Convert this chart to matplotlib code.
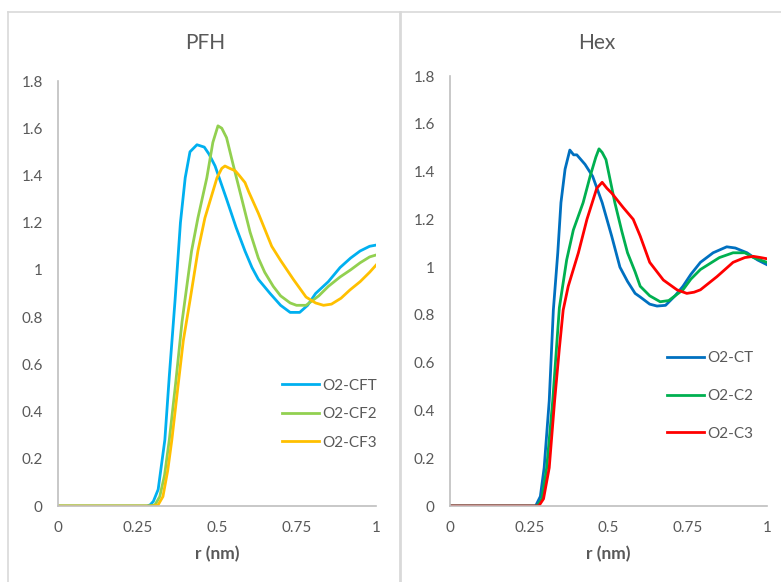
import matplotlib.pyplot as plt
from matplotlib.lines import Line2D

plt.rcParams['font.family'] = ['Lato', 'DejaVu Sans']

# PFH panel
pfh_cft_r = [0, 0.28, 0.29, 0.30, 0.315, 0.336, 0.35, 0.368, 0.385, 0.40, 0.415, 0.437, 0.46, 0.475, 0.494,
             0.53, 0.56, 0.588, 0.61, 0.63, 0.667, 0.70, 0.73, 0.76, 0.785, 0.81, 0.85, 0.887, 0.92, 0.95, 0.98, 1.0]
pfh_cft_g = [0, 0, 0.005, 0.02, 0.07, 0.28, 0.55, 0.87, 1.2, 1.39, 1.50, 1.53, 1.52, 1.49, 1.44,
             1.30, 1.18, 1.08, 1.01, 0.96, 0.90, 0.85, 0.82, 0.82, 0.85, 0.90, 0.95, 1.01, 1.05, 1.08, 1.10, 1.105]

pfh_cf2_r = [0, 0.29, 0.305, 0.32, 0.335, 0.35, 0.37, 0.39, 0.405, 0.42, 0.44, 0.468, 0.487, 0.503, 0.515,
             0.53, 0.55, 0.578, 0.604, 0.63, 0.65, 0.677, 0.70, 0.73, 0.75, 0.78, 0.82, 0.85, 0.887, 0.92,
             0.95, 0.98, 1.0]
pfh_cf2_g = [0, 0, 0.005, 0.04, 0.13, 0.28, 0.52, 0.78, 0.93, 1.08, 1.22, 1.39, 1.54, 1.61, 1.60,
             1.56, 1.45, 1.30, 1.16, 1.05, 0.99, 0.93, 0.89, 0.86, 0.85, 0.85, 0.89, 0.93, 0.97, 1.00,
             1.03, 1.055, 1.063]

pfh_cf3_r = [0, 0.30, 0.315, 0.33, 0.345, 0.358, 0.375, 0.394, 0.415, 0.44, 0.462, 0.50, 0.515, 0.525,
             0.54, 0.557, 0.57, 0.588, 0.60, 0.63, 0.672, 0.70, 0.74, 0.78, 0.81, 0.835, 0.86, 0.89, 0.918,
             0.95, 0.98, 1.0]
pfh_cf3_g = [0, 0, 0.005, 0.04, 0.15, 0.28, 0.48, 0.70, 0.87, 1.08, 1.22, 1.39, 1.43, 1.44,
             1.43, 1.42, 1.40, 1.37, 1.33, 1.24, 1.10, 1.04, 0.96, 0.885, 0.86, 0.85, 0.855, 0.88, 0.915,
             0.95, 0.99, 1.02]

# Hex panel
hex_ct_r = [0, 0.27, 0.285, 0.297, 0.313, 0.326, 0.34, 0.35, 0.363, 0.378, 0.39, 0.40, 0.426, 0.45, 0.48,
            0.51, 0.536, 0.56, 0.584, 0.60, 0.63, 0.653, 0.68, 0.71, 0.735, 0.76, 0.79, 0.83, 0.873, 0.90,
            0.937, 0.97, 1.0]
hex_ct_g = [0, 0, 0.04, 0.16, 0.44, 0.82, 1.06, 1.27, 1.41, 1.49, 1.47, 1.47, 1.43, 1.38, 1.27,
            1.13, 1.00, 0.94, 0.89, 0.875, 0.845, 0.837, 0.84, 0.88, 0.92, 0.97, 1.02, 1.06, 1.085, 1.08,
            1.06, 1.03, 1.01]

hex_c2_r = [0, 0.275, 0.29, 0.305, 0.324, 0.345, 0.368, 0.389, 0.42, 0.442, 0.46, 0.47, 0.48, 0.492,
            0.52, 0.542, 0.56, 0.584, 0.60, 0.63, 0.663, 0.69, 0.735, 0.76, 0.79, 0.85, 0.893, 0.93,
            0.957, 1.0]
hex_c2_g = [0, 0, 0.03, 0.16, 0.44, 0.83, 1.03, 1.155, 1.27, 1.38, 1.46, 1.495, 1.48, 1.45,
            1.27, 1.15, 1.06, 0.98, 0.92, 0.88, 0.855, 0.86, 0.905, 0.95, 0.99, 1.04, 1.06, 1.06,
            1.04, 1.02]

hex_c3_r = [0, 0.28, 0.295, 0.313, 0.33, 0.345, 0.357, 0.373, 0.405, 0.432, 0.463, 0.48, 0.495, 0.51,
            0.546, 0.578, 0.60, 0.63, 0.673, 0.716, 0.747, 0.77, 0.79, 0.842, 0.893, 0.93, 0.957, 0.98, 1.0]
hex_c3_g = [0, 0, 0.03, 0.16, 0.44, 0.66, 0.82, 0.92, 1.06, 1.20, 1.33, 1.355, 1.33, 1.31,
            1.25, 1.20, 1.13, 1.02, 0.946, 0.905, 0.89, 0.895, 0.905, 0.96, 1.02, 1.04, 1.045, 1.04, 1.035]

x_ticks = [0, 0.25, 0.5, 0.75, 1]
x_labels = ['0', '0.25', '0.5', '0.75', '1']
y_ticks = [0, 0.2, 0.4, 0.6, 0.8, 1.0, 1.2, 1.4, 1.6, 1.8]
y_labels = ['0', '0.2', '0.4', '0.6', '0.8', '1', '1.2', '1.4', '1.6', '1.8']

W, H = 781, 582
grey = '#595959'
fig = plt.figure(figsize=(W / 100, H / 100), dpi=100)

# chart area borders
border = '#D9D9D9'
fig.add_artist(Line2D([8 / W, 8 / W], [0, 1 - 12 / H], color=border, lw=1.2))
fig.add_artist(Line2D([8 / W, 1], [1 - 12 / H, 1 - 12 / H], color=border, lw=1.2))
fig.add_artist(Line2D([400 / W, 400 / W], [0, 1 - 12 / H], color=border, lw=2))

ax1 = fig.add_axes([58 / W, 76 / H, 318 / W, 425 / H])
ax2 = fig.add_axes([450 / W, 76 / H, 317 / W, 430 / H])


def style(ax):
    ax.set_xlim(0, 1)
    ax.set_ylim(0, 1.8)
    ax.set_xticks(x_ticks)
    ax.set_xticklabels(x_labels)
    ax.set_yticks(y_ticks)
    ax.set_yticklabels(y_labels)
    for s in ['top', 'right']:
        ax.spines[s].set_visible(False)
    for s in ['left', 'bottom']:
        ax.spines[s].set_color('#BFBFBF')
        ax.spines[s].set_linewidth(1.2)
    ax.tick_params(length=0, labelsize=11, labelcolor=grey)
    ax.tick_params(axis='y', pad=11)
    ax.tick_params(axis='x', pad=11)
    ax.set_xlabel('r (nm)', fontsize=12.5, fontweight='bold', color=grey, labelpad=8)


lw = 2.0
ax1.plot(pfh_cft_r, pfh_cft_g, color='#00B0F0', lw=lw, label='O2-CFT')
ax1.plot(pfh_cf2_r, pfh_cf2_g, color='#92D050', lw=lw, label='O2-CF2')
ax1.plot(pfh_cf3_r, pfh_cf3_g, color='#FFC000', lw=lw, label='O2-CF3')
style(ax1)
ax1.legend(loc='upper left', bbox_to_anchor=(0.704, 0.30), frameon=False, fontsize=11,
           labelcolor=grey, handlelength=2.4, handletextpad=0.25, labelspacing=0.95,
           borderpad=0, borderaxespad=0)

ax2.plot(hex_ct_r, hex_ct_g, color='#0070C0', lw=lw, label='O2-CT')
ax2.plot(hex_c2_r, hex_c2_g, color='#00B050', lw=lw, label='O2-C2')
ax2.plot(hex_c3_r, hex_c3_g, color='#FF0000', lw=lw, label='O2-C3')
style(ax2)
ax2.legend(loc='upper left', bbox_to_anchor=(0.685, 0.36), frameon=False, fontsize=11,
           labelcolor=grey, handlelength=2.4, handletextpad=0.25, labelspacing=1.55,
           borderpad=0, borderaxespad=0)

fig.text(205 / W, 1 - 43 / H, 'PFH', ha='center', va='center', fontsize=15, color=grey)
fig.text(597 / W, 1 - 43 / H, 'Hex', ha='center', va='center', fontsize=15, color=grey)

fig.savefig('out.png', dpi=100)
